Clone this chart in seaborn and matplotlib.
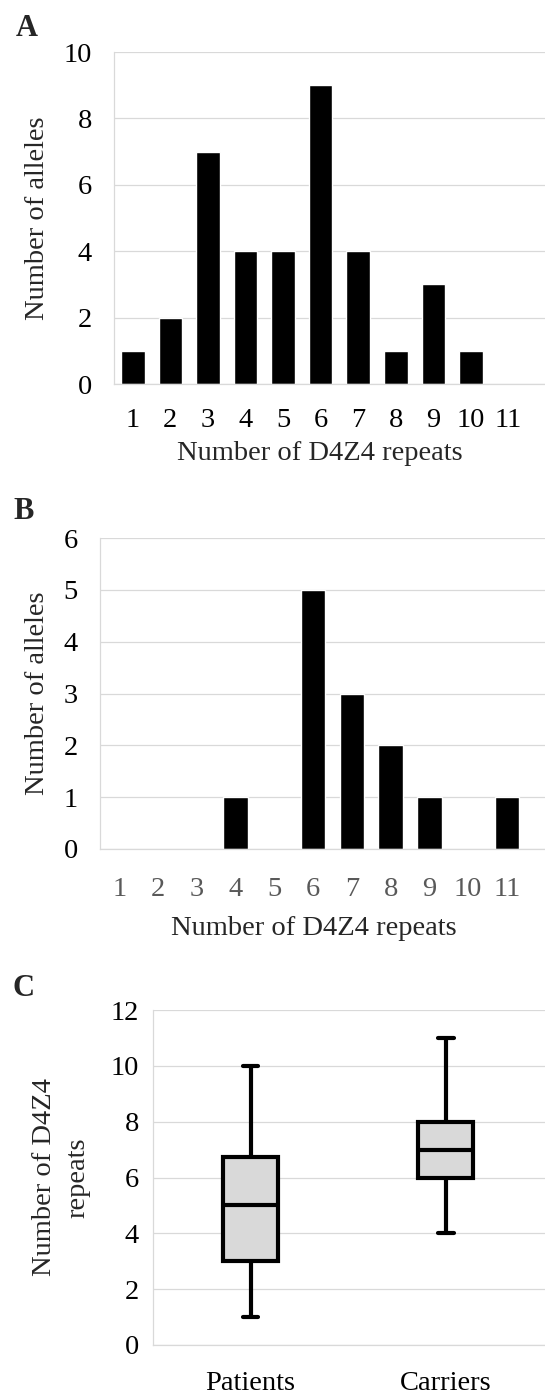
import pandas as pd
import seaborn as sns
import matplotlib.pyplot as plt

# data
repeats = ["1", "2", "3", "4", "5", "6", "7", "8", "9", "10", "11"]
patients_alleles = [1, 2, 7, 4, 4, 9, 4, 1, 3, 1, 0]
carriers_alleles = [0, 0, 0, 1, 0, 5, 3, 2, 1, 0, 1]

groups = ["Patients", "Carriers"]
# five-number summaries (min, Q1, median, Q3, max)
patients_summary = [1, 3, 5, 6.75, 10]
carriers_summary = [4, 6, 7, 8, 11]

W, H = 545, 1396
GRID = "#d9d9d9"
FS = 20.5


def px_axes(fig, left, top, right, bottom):
    return fig.add_axes([left / W, 1 - bottom / H, (right - left) / W, (bottom - top) / H])


def style_axes(ax, ymax, step):
    ax.set_ylim(0, ymax)
    ax.set_yticks(range(0, ymax + 1, step))
    ax.grid(axis="y", color=GRID, linewidth=0.9)
    ax.grid(axis="x", visible=False)
    ax.set_axisbelow(True)
    for side in ["top", "right"]:
        ax.spines[side].set_visible(False)
    for side in ["left", "bottom"]:
        ax.spines[side].set_color(GRID)
        ax.spines[side].set_linewidth(0.9)
    ax.tick_params(length=0, labelsize=FS, colors="black")


def bar_panel(ax, values, ymax, step, xtick_color, xpad, xlab_x, xlab_y, ylab_x):
    sns.barplot(x=repeats, y=values, order=repeats, color="black", saturation=1,
                width=0.63, ax=ax)
    style_axes(ax, ymax, step)
    ax.set_xlim(-0.5, 11.37)
    ax.tick_params(axis="y", pad=16)
    ax.tick_params(axis="x", pad=xpad, labelcolor=xtick_color)
    ax.set_xlabel("Number of D4Z4 repeats", fontsize=FS)
    ax.xaxis.set_label_coords(xlab_x, xlab_y)
    ax.xaxis.label.set_va("center")
    ax.set_ylabel("Number of alleles", fontsize=FS)
    ax.yaxis.set_label_coords(ylab_x, 0.5)
    ax.yaxis.label.set_va("center")


if __name__ == "__main__":
    sns.set_theme(style="white")
    plt.rcParams["font.family"] = ["Liberation Serif", "DejaVu Serif"]

    fig = plt.figure(figsize=(W / 100, H / 100), dpi=100)

    # A
    ax_a = px_axes(fig, 114, 52, 560, 384)
    bar_panel(ax_a, patients_alleles, 10, 2, "black", 17, 0.462, -0.21, -0.172)

    # B
    ax_b = px_axes(fig, 100, 538, 560, 849)
    bar_panel(ax_b, carriers_alleles, 6, 1, "#595959", 20, 0.465, -0.256, -0.135)

    # C
    ax_c = px_axes(fig, 153, 1010, 560, 1345)
    box_df = pd.DataFrame({
        "group": [groups[0]] * len(patients_summary) + [groups[1]] * len(carriers_summary),
        "repeats": patients_summary + carriers_summary,
    })
    sns.boxplot(data=box_df, x="group", y="repeats", order=groups, whis=(0, 100),
                width=0.28, color="#d9d9d9", saturation=1, linecolor="black",
                linewidth=3, ax=ax_c)
    style_axes(ax_c, 12, 2)
    ax_c.set_xlim(-0.5, 1.585)
    ax_c.tick_params(axis="y", pad=10)
    ax_c.tick_params(axis="x", pad=19)
    ax_c.set_xlabel("")
    ax_c.set_ylabel("Number of D4Z4\nrepeats", fontsize=FS, linespacing=1.45)
    ax_c.yaxis.set_label_coords(-0.225, 0.5)
    ax_c.yaxis.label.set_va("center")

    # narrow whisker caps like the original
    for line in ax_c.lines:
        xs = line.get_xdata()
        ys = line.get_ydata()
        if len(xs) == 2 and ys[0] == ys[1] and abs(xs[1] - xs[0]) < 0.2:
            c = (xs[0] + xs[1]) / 2
            line.set_xdata([c - 0.04, c + 0.04])

    for letter, x, y in [("A", 27, 28), ("B", 24, 512), ("C", 24, 989)]:
        fig.text(x / W, 1 - y / H, letter, fontsize=22, fontweight="bold",
                 ha="center", va="center")

    fig.savefig("out.png", dpi=100)
